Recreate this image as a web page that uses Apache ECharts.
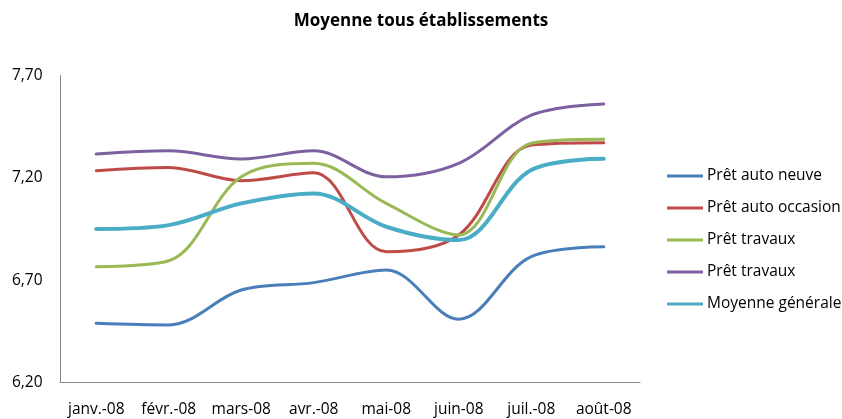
<!DOCTYPE html>
<html><head><meta charset="utf-8">
<script src="https://cdn.jsdelivr.net/npm/echarts@6/dist/echarts.min.js"></script>
<style>html,body{margin:0;padding:0;background:#fff}#c{width:842px;height:419px}</style>
</head><body><div id="c"></div>
<script>
const categories = ['janv.-08','févr.-08','mars-08','avr.-08','mai-08','juin-08','juil.-08','août-08'];
const seriesNames = ['Prêt auto neuve','Prêt auto occasion','Prêt travaux','Prêt travaux ','Moyenne générale'];
const autoNeuve = [6.489, 6.481, 6.652, 6.688, 6.750, 6.509, 6.815, 6.863];
const autoOccasion = [7.235, 7.251, 7.186, 7.225, 6.839, 6.921, 7.360, 7.372];
const travaux1 = [6.766, 6.795, 7.205, 7.271, 7.075, 6.921, 7.369, 7.388];
const travaux2 = [7.316, 7.332, 7.292, 7.332, 7.205, 7.271, 7.506, 7.561];
const moyenne = [6.950, 6.969, 7.075, 7.124, 6.961, 6.896, 7.238, 7.293];
const yTicks = {min: 6.2, max: 7.7, interval: 0.5};

const colors = ['#4A7EBB','#BE4B48','#98B954','#7D60A0','#4BACC6'];
const widths = [3,3,3,3,4];
const data = [autoNeuve, autoOccasion, travaux1, travaux2, moyenne];
const font = 'Open Sans';

const chart = echarts.init(document.getElementById('c'));
chart.setOption({
  animation: false,
  color: colors,
  title: {text: 'Moyenne tous établissements', left: 'center', top: 8,
    textStyle: {fontFamily: font, fontWeight: 'bold', fontSize: 17, color: '#000'}},
  legend: {orient: 'vertical', left: 667, top: 167, padding: 0, itemWidth: 36, itemHeight: 3, itemGap: 14,
    icon: 'rect', data: seriesNames,
    textStyle: {fontFamily: font, fontSize: 15.5, lineHeight: 18, color: '#000', padding: [0,0,0,-1]}},
  grid: {left: 60, right: 202, top: 75.5, bottom: 36.5},
  xAxis: {type: 'category', data: categories, boundaryGap: true,
    axisLine: {lineStyle: {color: '#868686', width: 1}}, axisTick: {show: false},
    axisLabel: {color: '#000', fontFamily: font, fontSize: 15.5, margin: 19, interval: 0}},
  yAxis: {type: 'value', min: yTicks.min, max: yTicks.max, interval: yTicks.interval,
    axisLine: {show: true, lineStyle: {color: '#868686', width: 1}}, axisTick: {show: false},
    splitLine: {show: false},
    axisLabel: {color: '#000', fontFamily: font, fontSize: 15.5, margin: 48, align: 'left',
      formatter: v => v.toFixed(2).replace('.', ',')}},
  series: data.map((d, i) => ({
    name: seriesNames[i], type: 'line', data: d, smooth: 0.35, symbol: 'none',
    lineStyle: {width: widths[i], color: colors[i], cap: 'round'}
  }))
});
</script></body></html>
